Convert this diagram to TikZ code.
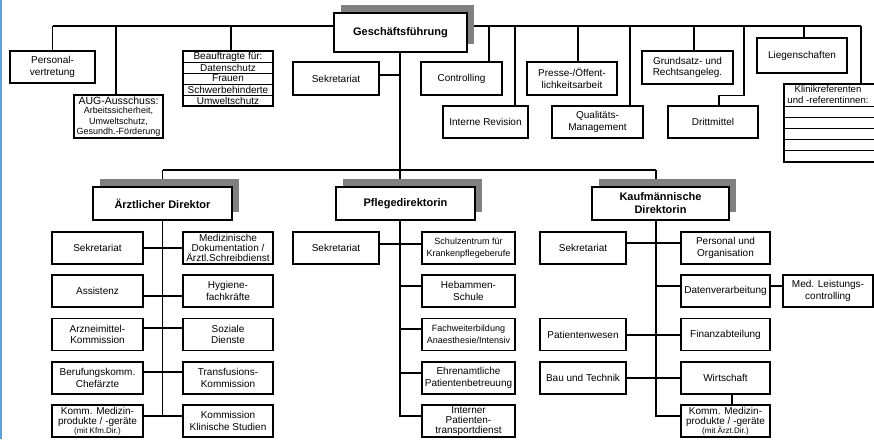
\documentclass[tikz,border=0pt]{standalone}
\usepackage{fontspec}
\setmainfont{Liberation Sans}
\usetikzlibrary{backgrounds,shadows}

\definecolor{shadowgray}{RGB}{128,128,128}
\definecolor{edgeblue}{RGB}{96,158,214}

\newcommand{\smallsz}{\fontsize{9}{10.5}\selectfont}
\newcommand{\tinysz}{\fontsize{8}{9}\selectfont}

\tikzset{
  unit/.style={draw, fill=white, line width=1.5pt, inner sep=0pt, align=center,
    font=\fontsize{10}{11.5}\selectfont},
  lead/.style={unit, font=\fontsize{11}{13}\selectfont\bfseries,
    general shadow={shadow xshift=7pt, shadow yshift=8pt, fill=shadowgray}},
  link/.style={line width=1.5pt},
  rule/.style={line width=0.8pt},
}

\begin{document}
\begin{tikzpicture}[x=1pt,y=-1pt]
  \useasboundingbox (0,0) rectangle (874,439);
  \clip (0,0) rectangle (874,439);
  \draw[edgeblue, line width=2pt] (1,0) -- (1,439);

  % management level
  \node[lead, minimum width=133, minimum height=39] (gf) at (400.5,32.5) {Geschäftsführung};
  \node[unit, minimum width=85, minimum height=32] (pv) at (52.5,67) {Personal-\\vertretung};
  \node[unit, minimum width=89, minimum height=43, font=\fontsize{9}{10.5}\selectfont] (aug) at (118.5,116.5)
    {{\fontsize{10.5}{11}\selectfont AUG-Ausschuss:}\\[-1pt]Arbeitssicherheit,\\Umweltschutz,\\Gesundh.-Förderung};
  \node[unit, minimum width=90, minimum height=55] (bf) at (228,78.5) {};
  \foreach \t [count=\i] in {Beauftragte für:, Datenschutz, Frauen, Schwerbehinderte, Umweltschutz}
    \node[font=\fontsize{10}{11}\selectfont, inner sep=0pt] (bf\i) at (228,45.5+11*\i) {\t};
  \node[unit, minimum width=86, minimum height=33] (gsek) at (336,78.5) {Sekretariat};
  \node[unit, minimum width=81, minimum height=33] (ctrl) at (461.5,78.5) {Controlling};
  \node[unit, minimum width=85, minimum height=32] (irev) at (485.5,122) {Interne Revision};
  \node[unit, minimum width=90, minimum height=33] (presse) at (572,78.5) {Presse-/Öffent-\\lichkeitsarbeit};
  \node[unit, minimum width=91, minimum height=32] (qm) at (597.5,122) {Qualitäts-\\Management};
  \node[unit, minimum width=91, minimum height=33] (gr) at (687.5,67.5) {Grundsatz- und\\Rechtsangeleg.};
  \node[unit, minimum width=90, minimum height=32] (dm) at (713,122) {Drittmittel};
  \node[unit, minimum width=90, minimum height=35] (lg) at (802,55.5) {Liegenschaften};
  \node[unit, minimum width=97, minimum height=78, anchor=north west] (kr) at (783,83) {};
  \node[font=\fontsize{9.6}{11}\selectfont, align=center, inner sep=0pt] (krt) at (828,94.5)
    {Klinikreferenten\\und -referentinnen:};
  \foreach \y in {106,117,128,139,150}
    \draw[rule] (kr.west |- 0,\y) -- (kr.east |- 0,\y);
  \foreach \y in {62,73,84,95}
    \draw[rule] (bf.west |- 0,\y) -- (bf.east |- 0,\y);

  % directors
  \node[lead, minimum width=139, minimum height=33] (ad) at (162.5,203.5) {Ärztlicher Direktor};
  \node[lead, minimum width=139, minimum height=33] (pd) at (405.5,203.5) {Pflegedirektorin};
  \node[lead, minimum width=137, minimum height=33] (kd) at (660.5,203.5) {Kaufmännische\\Direktorin};

  % Aerztlicher Direktor
  \foreach \n/\y/\t in {a1/248/Sekretariat, a2/291/Assistenz, a3/334.5/{Arzneimittel-\\Kommission},
      a4/378/{Berufungskomm.\\Chefärzte}, a5/421/{Komm. Medizin-\\[-1.5pt]produkte / -geräte\\[-3pt]{\tinysz (mit Kfm.Dir.)}}}
    \node[unit, minimum width=91, minimum height=32] (\n) at (97.5,\y) {\t};
  \foreach \n/\y/\t in {m1/248/{Medizinische\\[-1.5pt]Dokumentation /\\[-1.5pt]Ärztl.Schreibdienst}, m2/291/{Hygiene-\\fachkräfte},
      m3/334.5/{Soziale\\Dienste}, m4/378/{Transfusions-\\Kommission}, m5/421/{Kommission\\Klinische Studien}}
    \node[unit, minimum width=90, minimum height=32] (\n) at (228,\y) {\t};

  % Pflegedirektorin
  \node[unit, minimum width=86, minimum height=32] (b0) at (336,248) {Sekretariat};
  \foreach \n/\y/\t in {p1/248/{\smallsz Schulzentrum für\\\smallsz Krankenpflegeberufe}, p2/291/{Hebammen-\\Schule},
      p3/334.5/{\smallsz Fachweiterbildung\\\smallsz Anaesthesie/Intensiv}, p4/378/{Ehrenamtliche\\Patientenbetreuung},
      p5/421/{Interner\\[-1.5pt]Patienten-\\[-1.5pt]transportdienst}}
    \node[unit, minimum width=93, minimum height=32] (\n) at (468.5,\y) {\t};

  % Kaufmaennische Direktorin
  \foreach \n/\y/\t in {c1/248/Sekretariat, c3/334.5/Patientenwesen, c4/378/Bau und Technik}
    \node[unit, minimum width=86, minimum height=32] (\n) at (583,\y) {\t};
  \foreach \n/\y/\t in {k1/248/{Personal und\\Organisation}, k2/291/Datenverarbeitung, k3/334.5/Finanzabteilung,
      k4/378/Wirtschaft, k5/421/{Komm. Medizin-\\[-1.5pt]produkte / -geräte\\[-3pt]{\tinysz (mit Ärzt.Dir.)}}}
    \node[unit, minimum width=89, minimum height=32] (\n) at (725.5,\y) {\t};
  \node[unit, minimum width=90, minimum height=32] (k6) at (828,291) {Med. Leistungs-\\controlling};

  \coordinate (bus) at (0,26);
  \coordinate (ta) at (162.5,170);
  \coordinate (tb) at (400,170);
  \coordinate (tc) at (656,170);

  \begin{scope}[on background layer]
    % staff units
    \draw[link] (bus -| pv.north) -- (bus -| 861,0);
    \foreach \n/\x in {pv/52.5, aug/116, bf/231, ctrl/489, irev/515, presse/578, qm/630, gr/694, lg/804, kr/861}
      \draw[link] (\n.north -| \x,0) -- (bus -| \x,0);
    \draw[link] (dm.north -| 719,0) -- ++(0,-10) -| (bus -| 744,0);
    \draw[link] (gsek.east |- 0,75) -- (tb |- 0,75);
    % line organisation
    \draw[link] (ta) -- (tc);
    \draw[link] (gf.south -| tb) -- (tb |- 0,416) -- (p5.west |- 0,416);
    \draw[link] (ta) -- (ta |- 0,416);
    \draw[link] (tc) -- (tc |- 0,416) -- (k5.west |- 0,416);
    \foreach \i/\y in {1/248, 2/296, 3/328, 4/372, 5/416}
      \draw[link] (a\i.east |- 0,\y) -- (m\i.west |- 0,\y);
    \draw[link] (b0.east |- 0,244) -- (p1.west |- 0,244);
    \foreach \i/\y in {2/286, 3/329, 4/373}
      \draw[link] (tb |- 0,\y) -- (p\i.west |- 0,\y);
    \draw[link] (c1.east |- 0,243) -- (k1.west |- 0,243);
    \draw[link] (tc |- 0,286) -- (k2.west |- 0,286);
    \draw[link] (k2.east |- 0,286) -- (k6.west |- 0,286);
    \draw[link] (c3.east |- 0,335) -- (k3.west |- 0,335);
    \draw[link] (c4.east |- 0,378) -- (k4.west |- 0,378);
    \draw[link] (k4.south -| 732,0) -- (k5.north -| 732,0);
  \end{scope}
\end{tikzpicture}
\end{document}
